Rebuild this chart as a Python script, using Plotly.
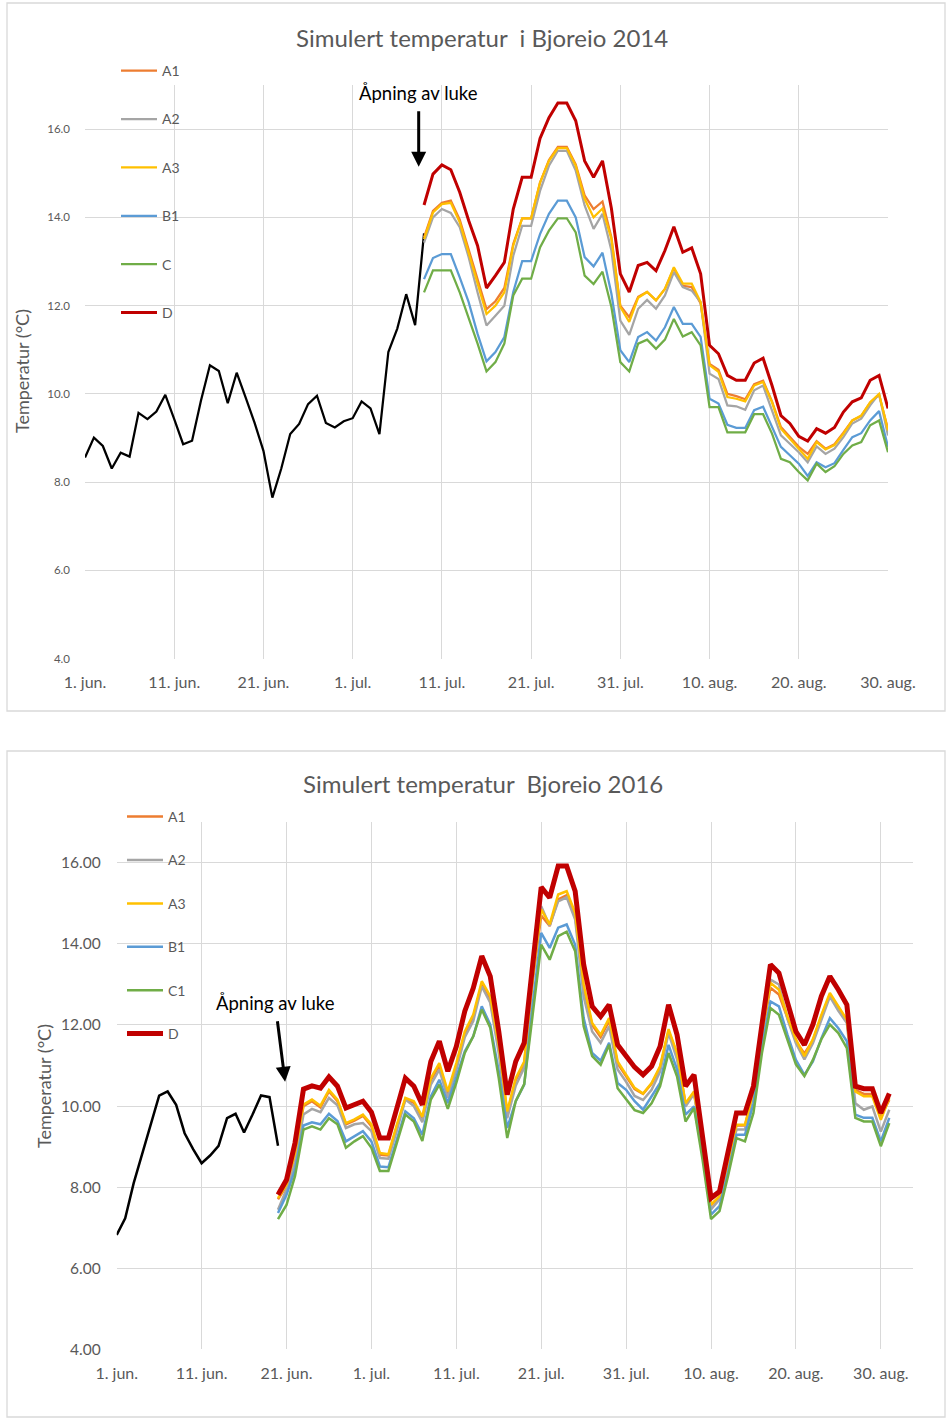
import plotly.graph_objects as go
import pandas as pd

W, H = 946, 1419

# ---------------- 2014 ----------------
obs14_start = "2014-06-01"
obs14 = [8.56, 9.01, 8.82, 8.31, 8.67, 8.58, 9.57, 9.43, 9.60, 9.98, 9.43, 8.86, 8.94,
         9.85, 10.65, 10.52, 9.79, 10.48, 9.92, 9.35, 8.71, 7.65, 8.31, 9.09, 9.32, 9.77,
         9.96, 9.34, 9.24, 9.38, 9.45, 9.83, 9.67, 9.09, 10.95, 11.48, 12.26, 11.56, 13.64]
sim14_start = "2014-07-09"
A1_14 = [13.55, 14.15, 14.33, 14.38, 13.95, 13.28, 12.62, 11.92, 12.1, 12.4,
         13.4, 13.98, 13.98, 14.79, 15.3, 15.6, 15.6, 15.2, 14.5, 14.19,
         14.36, 13.55, 12.0, 11.74, 12.2, 12.31, 12.12, 12.38, 12.85, 12.45,
         12.42, 12.05, 10.68, 10.55, 10.0, 9.95, 9.88, 10.22, 10.3, 9.83,
         9.25, 9.02, 8.8, 8.64, 8.93, 8.76, 8.86, 9.12, 9.4, 9.5,
         9.8, 9.98, 9.2]
A2_14 = [13.43, 14.0, 14.19, 14.1, 13.78, 13.1, 12.3, 11.55, 11.77, 12.0,
         13.13, 13.81, 13.81, 14.6, 15.17, 15.51, 15.51, 15.06, 14.27, 13.74,
         14.08, 13.25, 11.66, 11.34, 11.93, 12.13, 11.93, 12.23, 12.76, 12.42,
         12.34, 12.08, 10.46, 10.34, 9.74, 9.72, 9.64, 10.08, 10.19, 9.62,
         9.06, 8.87, 8.68, 8.45, 8.81, 8.64, 8.76, 9.02, 9.33, 9.44,
         9.74, 10.0, 9.06]
A3_14 = [13.51, 14.11, 14.30, 14.33, 13.89, 13.21, 12.53, 11.81, 12.0, 12.3,
         13.36, 13.98, 13.98, 14.79, 15.28, 15.57, 15.57, 15.17, 14.42, 14.0,
         14.2, 13.51, 11.97, 11.63, 12.18, 12.31, 12.12, 12.38, 12.87, 12.5,
         12.5, 12.08, 10.65, 10.5, 9.93, 9.89, 9.83, 10.19, 10.27, 9.81,
         9.21, 8.98, 8.76, 8.53, 8.91, 8.74, 8.84, 9.1, 9.4, 9.51,
         9.81, 10.0, 9.17]
B1_14 = [12.6, 13.08, 13.17, 13.17, 12.64, 12.08, 11.36, 10.74, 10.95, 11.29,
         12.31, 13.01, 13.01, 13.62, 14.08, 14.38, 14.38, 14.0, 13.1, 12.89,
         13.2, 12.27, 10.99, 10.72, 11.29, 11.4, 11.21, 11.51, 11.97, 11.59,
         11.59, 11.29, 9.89, 9.78, 9.3, 9.23, 9.23, 9.63, 9.71, 9.25,
         8.8, 8.61, 8.42, 8.14, 8.45, 8.34, 8.43, 8.73, 9.02, 9.11,
         9.4, 9.61, 8.8]
C_14 = [12.3, 12.8, 12.8, 12.8, 12.3, 11.74, 11.14, 10.51, 10.72, 11.14,
        12.23, 12.61, 12.61, 13.32, 13.7, 13.98, 13.98, 13.66, 12.68, 12.49,
        12.77, 11.97, 10.72, 10.51, 11.14, 11.23, 11.02, 11.23, 11.7, 11.3,
        11.4, 11.1, 9.7, 9.7, 9.13, 9.13, 9.13, 9.54, 9.54, 9.1,
        8.53, 8.45, 8.23, 8.04, 8.42, 8.23, 8.36, 8.64, 8.83, 8.91,
        9.29, 9.4, 8.68]
D_14 = [14.28, 14.98, 15.19, 15.08, 14.57, 13.93, 13.36, 12.40, 12.68, 12.98,
        14.19, 14.91, 14.91, 15.79, 16.26, 16.59, 16.59, 16.19, 15.28, 14.91,
        15.28, 14.2, 12.72, 12.31, 12.91, 12.98, 12.79, 13.25, 13.79, 13.21,
        13.31, 12.72, 11.10, 10.91, 10.42, 10.31, 10.31, 10.70, 10.81, 10.19,
        9.51, 9.33, 9.04, 8.93, 9.21, 9.11, 9.24, 9.59, 9.82, 9.91,
        10.31, 10.42, 9.67]

# ---------------- 2016 ----------------
obs16_start = "2016-06-01"
obs16 = [6.82, 7.23, 8.1, 8.8, 9.54, 10.26, 10.36, 10.03, 9.33, 8.94, 8.59, 8.78,
         9.02, 9.7, 9.81, 9.35, 9.79, 10.26, 10.22, 9.02]
sim16_start = "2016-06-20"
A3_16 = [7.73, 8.06, 8.84, 10.04, 10.16, 10.01, 10.40, 10.16, 9.58, 9.67, 9.79,
         9.55, 8.84, 8.81, 9.54, 10.2, 10.12, 9.74, 10.69, 11.06, 10.36, 11.06,
         11.84, 12.26, 13.08, 12.71, 11.51, 9.87, 10.69, 11.1, 13.16, 14.85, 14.48,
         15.22, 15.3, 14.77, 13.0, 12.05, 11.76, 12.17, 11.1, 10.77, 10.45, 10.31,
         10.57, 10.98, 11.9, 11.31, 10.07, 10.36, 9.09, 7.57, 7.78, 8.64, 9.54,
         9.54, 10.36, 11.8, 13.04, 12.87, 12.21, 11.65, 11.23, 11.65, 12.25, 12.79,
         12.46, 12.13, 10.36, 10.24, 10.24, 9.66, 10.2]
A1_16 = [7.7, 8.02, 8.8, 10.0, 10.12, 9.97, 10.36, 10.12, 9.55, 9.64, 9.76,
         9.5, 8.8, 8.78, 9.5, 10.17, 10.08, 9.7, 10.64, 11.0, 10.3, 10.95,
         11.78, 12.2, 13.0, 12.6, 11.45, 9.82, 10.64, 11.05, 13.1, 14.7, 14.44,
         15.1, 15.2, 14.7, 12.9, 12.0, 11.7, 12.1, 11.05, 10.75, 10.42, 10.3,
         10.55, 10.95, 11.85, 11.28, 10.05, 10.34, 9.07, 7.55, 7.76, 8.62, 9.52,
         9.52, 10.34, 11.76, 12.92, 12.75, 12.18, 11.6, 11.3, 11.62, 12.22, 12.75,
         12.44, 12.1, 10.4, 10.3, 10.3, 9.75, 10.15]
A2_16 = [7.44, 7.94, 8.6, 9.79, 9.93, 9.85, 10.2, 10.02, 9.46, 9.55, 9.58,
         9.38, 8.72, 8.7, 9.4, 10.16, 10.0, 9.6, 10.53, 10.9, 10.2, 10.9,
         11.7, 12.1, 12.95, 12.55, 11.3, 9.7, 10.5, 10.95, 13.1, 14.93, 14.45,
         15.05, 15.15, 14.6, 12.7, 11.84, 11.56, 11.97, 10.9, 10.6, 10.25, 10.15,
         10.4, 10.85, 11.8, 11.15, 9.99, 10.3, 9.0, 7.45, 7.7, 8.55, 9.42,
         9.42, 10.3, 11.75, 13.12, 13.0, 12.15, 11.55, 11.15, 11.55, 12.15, 12.7,
         12.35, 12.05, 10.07, 9.91, 9.99, 9.37, 9.91]
B1_16 = [7.36, 7.81, 8.43, 9.52, 9.6, 9.55, 9.81, 9.63, 9.13, 9.26, 9.38,
         9.13, 8.51, 8.49, 9.2, 9.87, 9.7, 9.29, 10.24, 10.65, 10.07, 10.69,
         11.35, 11.72, 12.46, 12.01, 10.86, 9.46, 10.12, 10.53, 12.5, 14.27, 13.9,
         14.4, 14.48, 13.98, 12.17, 11.31, 11.12, 11.56, 10.57, 10.4, 10.12, 9.91,
         10.24, 10.57, 11.51, 10.9, 9.79, 9.99, 8.84, 7.32, 7.53, 8.35, 9.29,
         9.29, 10.07, 11.47, 12.58, 12.46, 11.76, 11.14, 10.77, 11.1, 11.67, 12.17,
         11.92, 11.6, 9.79, 9.71, 9.71, 9.13, 9.71]
C1_16 = [7.21, 7.56, 8.27, 9.42, 9.5, 9.42, 9.7, 9.55, 8.97, 9.13, 9.26,
         8.97, 8.4, 8.4, 9.09, 9.79, 9.62, 9.14, 10.16, 10.53, 9.93, 10.57,
         11.31, 11.72, 12.38, 11.93, 10.69, 9.21, 10.12, 10.54, 12.26, 13.98, 13.61,
         14.19, 14.3, 13.82, 11.97, 11.23, 11.02, 11.51, 10.44, 10.18, 9.9, 9.83,
         10.07, 10.49, 11.31, 10.73, 9.62, 9.95, 8.68, 7.21, 7.41, 8.27, 9.21,
         9.13, 9.83, 11.31, 12.42, 12.25, 11.65, 11.03, 10.74, 11.14, 11.65, 12.01,
         11.8, 11.43, 9.71, 9.62, 9.62, 9.01, 9.58]
D_16 = [7.81, 8.18, 9.09, 10.42, 10.5, 10.44, 10.72, 10.49, 9.95, 10.03, 10.12,
        9.85, 9.21, 9.21, 9.95, 10.69, 10.49, 10.03, 11.1, 11.6, 10.86, 11.47,
        12.34, 12.91, 13.7, 13.2, 11.84, 10.28, 11.1, 11.56, 13.49, 15.4, 15.14,
        15.92, 15.92, 15.3, 13.49, 12.46, 12.21, 12.5, 11.51, 11.25, 10.96, 10.77,
        10.98, 11.47, 12.5, 11.76, 10.49, 10.77, 9.25, 7.73, 7.89, 8.84, 9.83,
        9.83, 10.49, 12.01, 13.49, 13.28, 12.58, 11.84, 11.51, 12.01, 12.71, 13.2,
        12.87, 12.5, 10.49, 10.43, 10.43, 9.83, 10.31]

tick_days = ["06-01", "06-11", "06-21", "07-01", "07-11", "07-21", "07-31", "08-10", "08-20", "08-30"]
tick_text = ["1. jun.", "11. jun.", "21. jun.", "1. jul.", "11. jul.", "21. jul.",
             "31. jul.", "10. aug.", "20. aug.", "30. aug."]
y_ticks = [4, 6, 8, 10, 12, 14, 16]

series14 = [("A1", A1_14, "#ED7D31", 2.25), ("A2", A2_14, "#A5A5A5", 2.25),
            ("A3", A3_14, "#FFC000", 2.25), ("B1", B1_14, "#5B9BD5", 2.25),
            ("C", C_14, "#70AD47", 2.25), ("D", D_14, "#C00000", 3)]
series16 = [("A1", A1_16, "#ED7D31", 2.5), ("A2", A2_16, "#A5A5A5", 2.5),
            ("A3", A3_16, "#FFC000", 2.5), ("B1", B1_16, "#5B9BD5", 2.5),
            ("C1", C1_16, "#70AD47", 2.5), ("D", D_16, "#C00000", 5)]

FONT = "Lato"
GREY = "#595959"
GRID = "#d9d9d9"


def dates(start, n):
    return pd.date_range(start, periods=n, freq="D")


fig = go.Figure()

# top chart traces
fig.add_trace(go.Scatter(x=dates(obs14_start, len(obs14)), y=obs14, mode="lines",
                         line=dict(color="black", width=2.25), showlegend=False,
                         xaxis="x", yaxis="y"))
for name, vals, col, w in series14:
    fig.add_trace(go.Scatter(x=dates(sim14_start, len(vals)), y=vals, mode="lines", name=name,
                             line=dict(color=col, width=w), legend="legend",
                             legendgroup="t" + name, xaxis="x", yaxis="y"))

# bottom chart traces
fig.add_trace(go.Scatter(x=dates(obs16_start, len(obs16)), y=obs16, mode="lines",
                         line=dict(color="black", width=2.5), showlegend=False,
                         xaxis="x2", yaxis="y2"))
for name, vals, col, w in series16:
    fig.add_trace(go.Scatter(x=dates(sim16_start, len(vals)), y=vals, mode="lines", name=name,
                             line=dict(color=col, width=w), legend="legend2",
                             legendgroup="b" + name, xaxis="x2", yaxis="y2"))


def px_x(p):
    return p / W


def px_y(p):
    return 1 - p / H


def axis_common(size):
    return dict(showgrid=True, gridcolor=GRID, gridwidth=1, zeroline=False, showline=False,
                ticks="", automargin=False, tickfont=dict(family=FONT, size=size, color=GREY))


fig.update_layout(
    template="none",
    width=W, height=H, margin=dict(l=0, r=0, t=0, b=0, pad=0, autoexpand=False),
    paper_bgcolor="white", plot_bgcolor="white",
    font=dict(family=FONT, color=GREY),
    xaxis=dict(domain=[px_x(85), px_x(888)], anchor="y",
               range=["2014-06-01", "2014-08-30"],
               tickvals=["2014-" + d for d in tick_days], ticktext=tick_text,
               ticklabelstandoff=12, **axis_common(16)),
    yaxis=dict(domain=[px_y(658.7), px_y(85)], anchor="x", range=[4, 17],
               tickvals=y_ticks, ticktext=[f"{v:.1f}" for v in y_ticks],
               ticklabelstandoff=14, **axis_common(11.5)),
    xaxis2=dict(domain=[px_x(116.7), px_x(913)], anchor="y2",
                range=["2016-06-01", "2016-09-02 19:00"],
                tickvals=["2016-" + d for d in tick_days], ticktext=tick_text,
                ticklabelstandoff=13, **axis_common(16)),
    yaxis2=dict(domain=[px_y(1349.3), px_y(822.3)], anchor="x2", range=[4, 17],
                tickvals=y_ticks, ticktext=[f"{v:.2f}" for v in y_ticks],
                ticklabelstandoff=15, **axis_common(15.5)),
    legend=dict(x=px_x(116), y=px_y(55), xanchor="left", yanchor="top",
                bgcolor="rgba(0,0,0,0)", borderwidth=0, tracegroupgap=27.2,
                itemwidth=36, font=dict(family=FONT, size=14, color=GREY)),
    legend2=dict(x=px_x(122), y=px_y(801), xanchor="left", yanchor="top",
                 bgcolor="rgba(0,0,0,0)", borderwidth=0, tracegroupgap=22.2,
                 itemwidth=36, font=dict(family=FONT, size=14, color=GREY)),
    showlegend=True,
)

# panel borders
fig.add_shape(type="rect", xref="paper", yref="paper", x0=px_x(7), x1=px_x(945),
              y0=px_y(711), y1=px_y(3), line=dict(color=GRID, width=1.3), layer="below")
fig.add_shape(type="rect", xref="paper", yref="paper", x0=px_x(7), x1=px_x(945),
              y0=px_y(1417), y1=px_y(751), line=dict(color=GRID, width=1.3), layer="below")

# titles
fig.add_annotation(text="Simulert temperatur  i Bjoreio 2014", xref="paper", yref="paper",
                   x=px_x(482), y=px_y(37), xanchor="center", yanchor="middle", showarrow=False,
                   font=dict(family=FONT, size=24, color=GREY))
fig.add_annotation(text="Simulert temperatur  Bjoreio 2016", xref="paper", yref="paper",
                   x=px_x(483), y=px_y(783), xanchor="center", yanchor="middle", showarrow=False,
                   font=dict(family=FONT, size=24, color=GREY))

# y-axis titles
fig.add_annotation(text="Temperatur (°C)", xref="paper", yref="paper", x=px_x(22), y=px_y(371),
                   xanchor="center", yanchor="middle", showarrow=False, textangle=-90,
                   font=dict(family=FONT, size=18, color=GREY))
fig.add_annotation(text="Temperatur (°C)", xref="paper", yref="paper", x=px_x(44), y=px_y(1086),
                   xanchor="center", yanchor="middle", showarrow=False, textangle=-90,
                   font=dict(family=FONT, size=18, color=GREY))

# "Åpning av luke" arrows
fig.add_annotation(text="Åpning av luke", x="2014-07-08 09:36", y=15.15, xref="x", yref="y",
                   showarrow=True, ax=0, ay=-74, arrowhead=2, arrowsize=1, arrowwidth=3,
                   arrowcolor="black", startstandoff=6,
                   font=dict(family=FONT, size=18.5, color="black"))
fig.add_annotation(text="Åpning av luke", x="2016-06-20 20:00", y=10.6, xref="x2", yref="y2",
                   showarrow=True, ax=-10, ay=-79, arrowhead=2, arrowsize=1, arrowwidth=3,
                   arrowcolor="black", startstandoff=6,
                   font=dict(family=FONT, size=18.5, color="black"))

fig.write_html("out.html",
               config={"displayModeBar": False},
               post_script="document.body.style.margin='0px';"
                           "document.documentElement.style.overflow='hidden';")
